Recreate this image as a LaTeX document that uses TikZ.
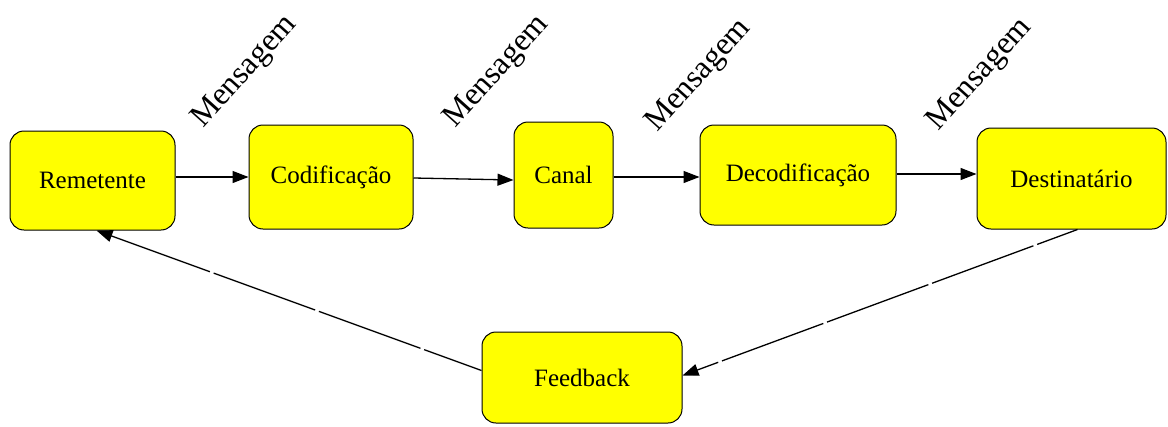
\documentclass[tikz,border=0pt]{standalone}
\usepackage{fontspec}
\setmainfont{Liberation Serif}
\usetikzlibrary{arrows.meta}
\definecolor{boxyellow}{RGB}{255,255,0}
\begin{document}
\begin{tikzpicture}[x=1pt,y=-1pt,
  box/.style={draw=black, line width=1pt, fill=boxyellow, rounded corners=14pt,
    inner sep=0pt, font=\fontsize{25}{29}\selectfont},
  conn/.style={line width=1.3pt, -{Triangle[length=16pt,width=12pt]}},
  fbline/.style={conn, dash pattern=on 108pt off 4pt},
  msg/.style={rotate=48, font=\fontsize{32}{36}\selectfont, inner sep=0pt}]
\useasboundingbox (0,0) rectangle (1168,426);
\node[box, minimum width=165pt, minimum height=99pt] (rem) at (92.5,180.5) {Remetente};
\node[box, minimum width=164pt, minimum height=104pt] (cod) at (331,177) {Codificação};
\node[box, minimum width=99pt, minimum height=106pt] (can) at (563.5,175) {Canal};
\node[box, minimum width=196pt, minimum height=100pt] (dec) at (798,175) {Decodificação};
\node[box, minimum width=189pt, minimum height=101pt] (dst) at (1071.5,178.5) {Destinatário};
\node[box, minimum width=200pt, minimum height=91pt] (fb) at (582,377.5) {Feedback};
\node[msg] (m1) at (245,72) {Mensagem};
\node[msg] (m2) at (497,72) {Mensagem};
\node[msg] (m3) at (699,76) {Mensagem};
\node[msg] (m4) at (980,75) {Mensagem};
\draw[conn] (rem.east |- 0,177) -- (cod.west |- 0,177);
\draw[conn] (cod.east |- 0,178) -- (can.west |- 0,180);
\draw[conn] (can.east |- 0,177) -- (dec.west |- 0,177);
\draw[conn] (dec.east |- 0,174) -- (dst.west |- 0,174);
\draw[fbline, dash phase=65pt] ([xshift=6pt]dst.south) -- ([yshift=2pt]fb.east);
\draw[fbline, dash phase=47pt] ([yshift=7pt]fb.west) -- ([xshift=4pt]rem.south);
\end{tikzpicture}
\end{document}
